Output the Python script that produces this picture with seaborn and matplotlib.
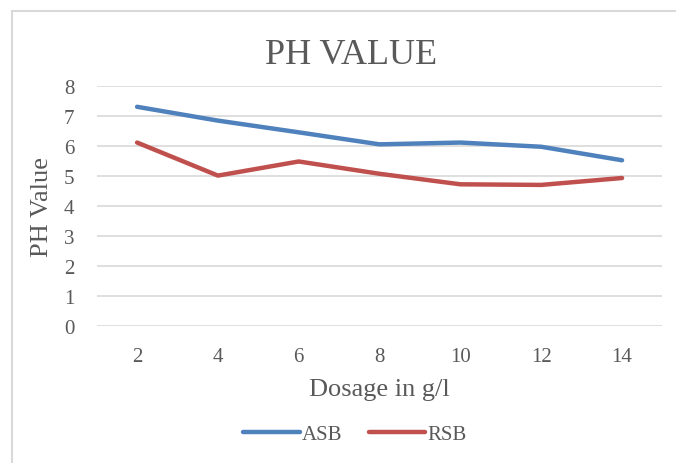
import matplotlib
matplotlib.use("Agg")
import matplotlib.pyplot as plt
import seaborn as sns
import pandas as pd
from matplotlib.patches import Rectangle

dosage = [2, 4, 6, 8, 10, 12, 14]
asb = [7.30, 6.84, 6.45, 6.05, 6.11, 5.97, 5.52]
rsb = [6.11, 5.01, 5.48, 5.07, 4.72, 4.70, 4.93]
series_names = ["ASB", "RSB"]
y_ticks = [0, 1, 2, 3, 4, 5, 6, 7, 8]

df = pd.DataFrame({
    "Dosage": dosage * 2,
    "PH": asb + rsb,
    "Series": [series_names[0]] * len(dosage) + [series_names[1]] * len(dosage),
})

sns.set_theme(style="white")
plt.rcParams["font.family"] = ["Liberation Serif", "DejaVu Serif"]
txt = "#595959"
grid = "#d9d9d9"

fig = plt.figure(figsize=(6.76, 4.64), dpi=100)
ax = fig.add_axes([0.143, 0.295, 0.837, 0.518])

sns.lineplot(data=df, x="Dosage", y="PH", hue="Series",
             palette={"ASB": "#4f81bd", "RSB": "#c0504d"},
             linewidth=3.2, ax=ax, legend=True)
for ln in ax.lines:
    ln.set_solid_capstyle("round")
    ln.set_solid_joinstyle("round")

ax.set_xlim(1, 15)
ax.set_ylim(0, 8)
ax.set_xticks(dosage)
ax.set_xticklabels([str(d) for d in dosage])
ax.set_yticks(y_ticks)
ax.yaxis.grid(True, color=grid, linewidth=1.2)
ax.xaxis.grid(False)
for s in ax.spines.values():
    s.set_visible(False)
ax.tick_params(axis="both", length=0, labelsize=15, colors=txt)
ax.tick_params(axis="x", pad=15)
ax.tick_params(axis="y", pad=16)
ax.set_xlabel("Dosage in g/l", fontsize=19, color=txt, labelpad=9)
ax.set_ylabel("PH Value", fontsize=19, color=txt, labelpad=8)
fig.text(351 / 676, 1 - 55 / 464, "PH VALUE", fontsize=26, color=txt,
         ha="center", va="center")

handles, labels = ax.get_legend_handles_labels()
ax.get_legend().remove()
leg = fig.legend(handles, labels, loc="center", bbox_to_anchor=(355 / 676, 0.062),
                 ncol=2, frameon=False, fontsize=15, handlelength=2.7,
                 handletextpad=0.1, columnspacing=1.3)
for t in leg.get_texts():
    t.set_color(txt)
for h in leg.get_lines():
    h.set_linewidth(3.2)
    h.set_solid_capstyle("round")

fig.patches.append(Rectangle((12 / 676, -0.1), 1.2, 1 - 12 / 464 + 0.1,
                             transform=fig.transFigure, fill=False,
                             edgecolor=grid, linewidth=1.5))

fig.savefig("out.png", dpi=100)
